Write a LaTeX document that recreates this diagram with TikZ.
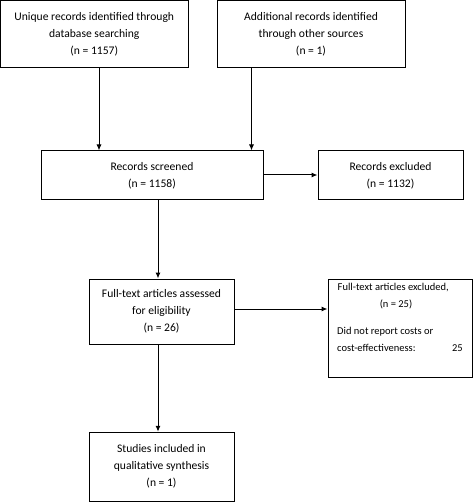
\documentclass[tikz,border=0pt]{standalone}
\usepackage{fontspec}
\setmainfont{Carlito}
\usetikzlibrary{arrows.meta}
\begin{document}
\begin{tikzpicture}[x=1pt,y=-1pt,
  box/.style={draw,line width=1pt,rectangle,inner sep=0pt,align=center,
    font={\fontsize{11.6}{17}\selectfont}},
  txt/.style={inner sep=0pt,font={\fontsize{10.5}{17}\selectfont}},
  arr/.style={line width=1pt,-{Latex[length=6pt,width=5pt]}}]
\useasboundingbox (0,0) rectangle (473,502);
\node[box,minimum width=187.5pt,minimum height=67.5pt] (b1) at (94.25,34.25)
  {Unique records identified through\\database searching\\(n = 1157)};
\node[box,minimum width=188pt,minimum height=67.5pt] (b2) at (311,34.25)
  {Additional records identified\\through other sources\\(n = 1)};
\node[box,minimum width=222pt,minimum height=49pt] (b3) at (152,175.5)
  {Records screened\\(n = 1158)};
\node[box,minimum width=145pt,minimum height=49pt] (b4) at (390.5,175.5)
  {Records excluded\\(n = 1132)};
\node[box,minimum width=145pt,minimum height=65pt] (b5) at (161.5,311.5)
  {Full-text articles assessed\\for eligibility\\(n = 26)};
\node[box,minimum width=144.5pt,minimum height=98pt] (b6) at (400.25,328) {};
\node[box,minimum width=145pt,minimum height=69pt] (b7) at (161.5,466.75)
  {Studies included in\\qualitative synthesis\\(n = 1)};
\node[txt,anchor=mid west] (t1) at (337.5,288) {Full-text articles excluded,};
\node[txt,anchor=mid] (t2) at (396,305) {(n = 25)};
\node[txt,anchor=mid west] (t3) at (337,332) {Did not report costs or};
\node[txt,anchor=mid west] (t4) at (337,349) {cost-effectiveness:};
\node[txt,anchor=mid east] (t5) at (463,349) {25};
\coordinate (c1) at (99,0);
\coordinate (c2) at (251.5,0);
\coordinate (c3) at (158,0);
\coordinate (r1) at (0,175);
\coordinate (r2) at (0,309);
\draw[arr] (b1.south -| c1) -- (b3.north -| c1);
\draw[arr] (b2.south -| c2) -- (b3.north -| c2);
\draw[arr] (b3.east |- r1) -- (b4.west |- r1);
\draw[arr] (b3.south -| c3) -- (b5.north -| c3);
\draw[arr] (b5.east |- r2) -- (b6.west |- r2);
\draw[arr] (b5.south -| c3) -- (b7.north -| c3);
\end{tikzpicture}
\end{document}
